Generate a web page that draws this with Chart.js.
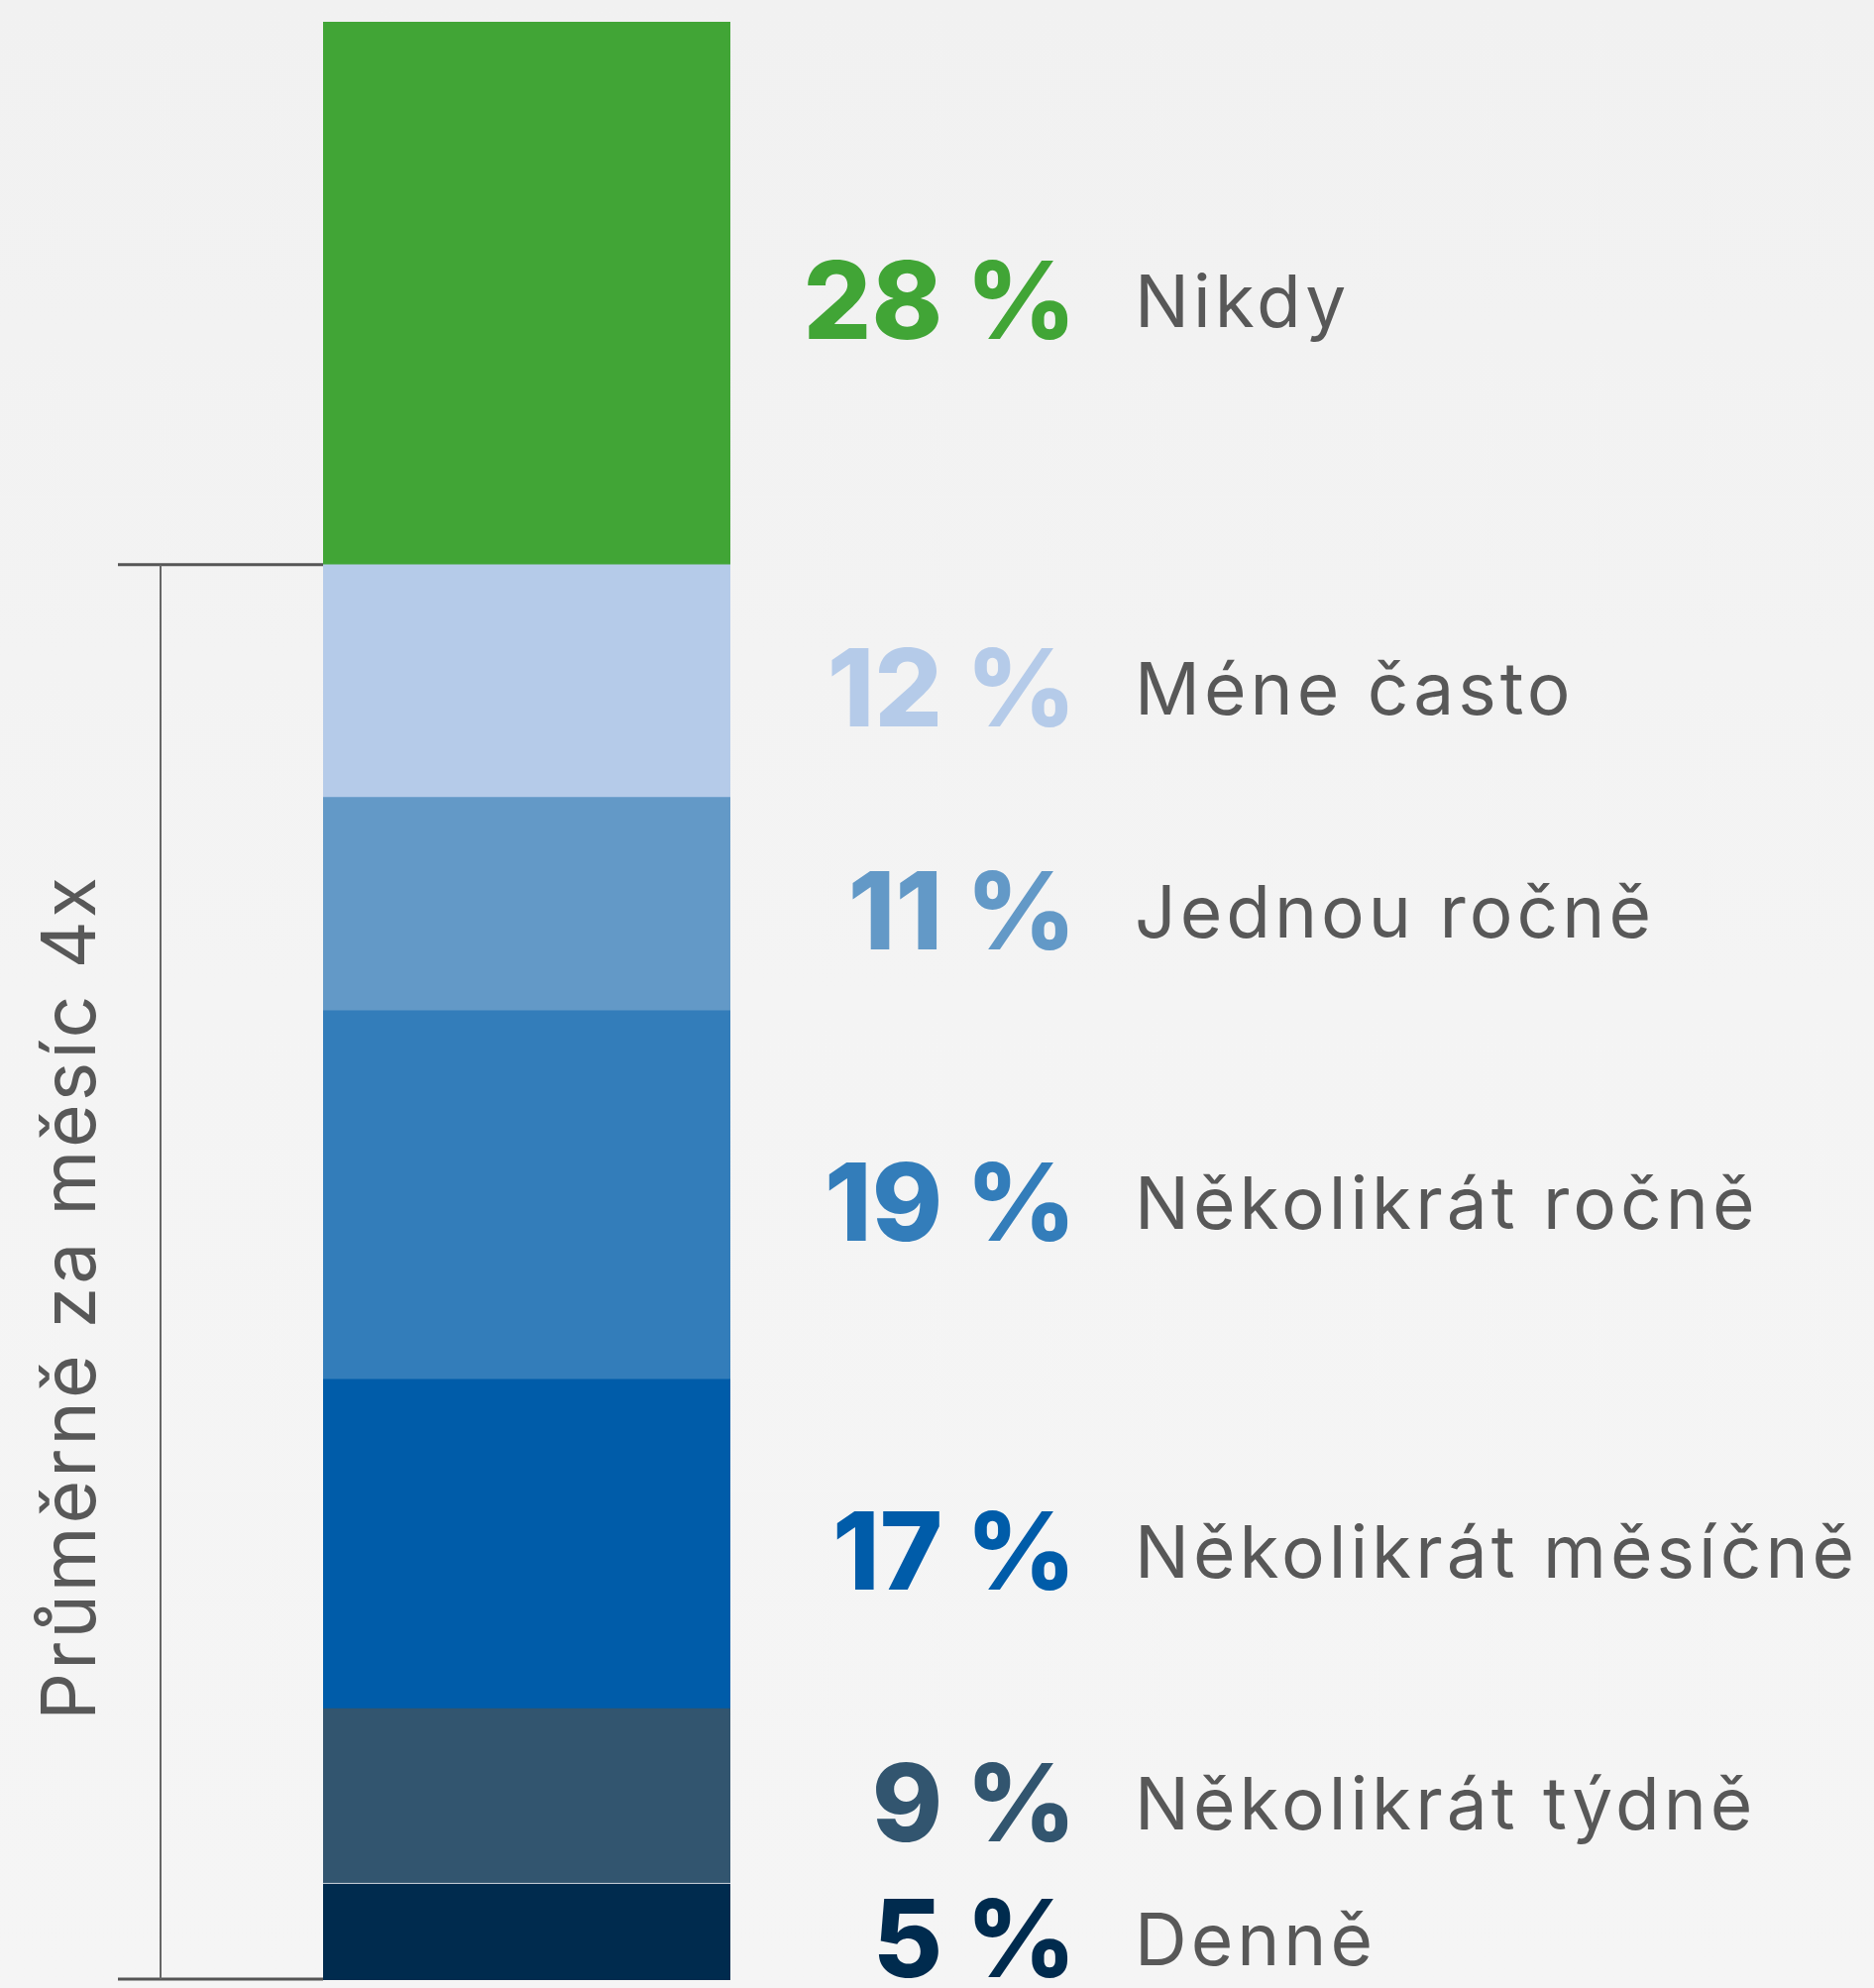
<!DOCTYPE html>
<html>
<head>
<meta charset="utf-8">
<script src="https://cdn.jsdelivr.net/npm/chart.js@4/dist/chart.umd.min.js"></script>
<style>
html,body{margin:0;padding:0;}
body{width:1891px;height:2006px;background:linear-gradient(180deg,#f1f1f1 0%,#f4f4f4 50%,#f5f5f5 100%);overflow:hidden;}
#wrap{position:absolute;left:0;top:0;width:1891px;height:2006px;}
</style>
</head>
<body>
<div id="wrap"><canvas id="c" width="1891" height="2006"></canvas></div>
<script>
// Data (bottom segment first)
const categories = ['Denně', 'Několikrát týdně', 'Několikrát měsíčně', 'Několikrát ročně', 'Jednou ročně', 'Méne často', 'Nikdy'];
const values = [5, 9, 17, 19, 11, 12, 28];
const valueLabels = ['5 %', '9 %', '17 %', '19 %', '11 %', '12 %', '28 %'];
const colors = ['#002b4e', '#32556f', '#005ca9', '#337dba', '#6399c7', '#b5cbe9', '#41a536'];
const bracketTitle = 'Průměrně za měsíc 4x';
const bracketFrom = 0;   // bracket covers values from bottom...
const bracketTo = 73;    // ...up to top of "Méne často"

const datasets = values.map((v, i) => ({
  label: categories[i],
  data: [v],
  backgroundColor: colors[i],
  borderColor: '#ffffff',
  borderWidth: {top: i === 0 ? 1 : 0, bottom: 0, left: 0, right: 0},
  borderSkipped: false,
  categoryPercentage: 1,
  barPercentage: 1
}));

const FONT_NUM = '800 108px Inter, "Noto Sans", sans-serif';
const FONT_LBL = '400 73px Inter, "Noto Sans", sans-serif';

const labelPlugin = {
  id: 'labels',
  afterDatasetsDraw(chart) {
    const ctx = chart.ctx;
    const y = chart.scales.y;
    ctx.save();
    chart.data.datasets.forEach((ds, i) => {
      const el = chart.getDatasetMeta(i).data[0];
      const mid = (el.y + el.base) / 2;
      const base = mid + 46;
      ctx.textBaseline = 'alphabetic';
      ctx.font = FONT_NUM;
      ctx.letterSpacing = '0px';
      ctx.fillStyle = colors[i];
      ctx.textAlign = 'right';
      ctx.fillText(valueLabels[i], 1086, base);
      ctx.font = FONT_LBL;
      ctx.letterSpacing = '4px';
      ctx.fillStyle = '#585858';
      ctx.textAlign = 'left';
      ctx.fillText(categories[i], 1145, base - 12);
    });
    ctx.letterSpacing = '0px';
    // bracket
    const yTop = y.getPixelForValue(bracketTo);
    const yBot = y.getPixelForValue(bracketFrom);
    const left = chart.chartArea.left;
    ctx.strokeStyle = '#555555';
    ctx.lineWidth = 3;
    ctx.beginPath();
    ctx.moveTo(119, yTop); ctx.lineTo(left, yTop);
    ctx.moveTo(119, yBot - 1); ctx.lineTo(left, yBot - 1);
    ctx.stroke();
    ctx.lineWidth = 2;
    ctx.strokeStyle = '#666666';
    ctx.beginPath();
    ctx.moveTo(162, yTop); ctx.lineTo(162, yBot - 1);
    ctx.stroke();
    // rotated title
    ctx.save();
    ctx.translate(96, (yTop + yBot) / 2 + 25);
    ctx.rotate(-Math.PI / 2);
    ctx.font = '400 75px Inter, "Noto Sans", sans-serif';
    ctx.letterSpacing = '3px';
    ctx.fillStyle = '#585858';
    ctx.textAlign = 'center';
    ctx.textBaseline = 'alphabetic';
    ctx.fillText(bracketTitle, 0, 0);
    ctx.restore();
    ctx.restore();
  }
};

new Chart(document.getElementById('c'), {
  type: 'bar',
  data: { labels: [''], datasets },
  options: {
    responsive: false,
    animation: false,
    layout: { padding: { left: 326, right: 1154, top: 22, bottom: 8 } },
    plugins: { legend: { display: false }, tooltip: { enabled: false } },
    scales: {
      x: { stacked: true, display: false },
      y: { stacked: true, display: false, min: 0, max: 101 }
    }
  },
  plugins: [labelPlugin]
});
</script>
</body>
</html>
